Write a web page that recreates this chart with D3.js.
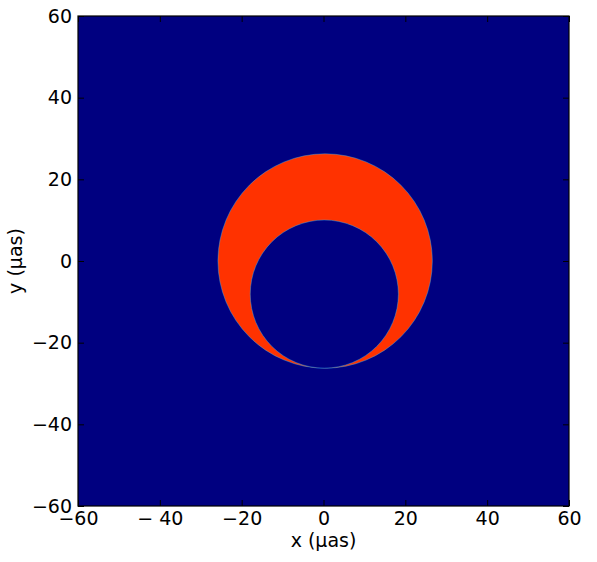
<!DOCTYPE html>
<html>
<head>
<meta charset="utf-8">
<script src="https://cdn.jsdelivr.net/npm/d3@7"></script>
<style>
  body { margin: 0; background: #fff; }
  text { font-family: "DejaVu Sans", sans-serif; }
</style>
</head>
<body>
<div id="chart"></div>
<script>
(function () {

  // tick values and their labels (matplotlib mathtext look)
  var xTicks = [-60, -40, -20, 0, 20, 40, 60]
  var xTickLabels = ["\u221260", "\u2212 40", "\u221220", "0", "20", "40", "60"]
  var yTicks = [-60, -40, -20, 0, 20, 40, 60]
  var yTickLabels = ["\u221260", "\u221240", "\u221220", "0", "20", "40", "60"]

  // crescent: bright outer disk minus a dark inner disk (µas)
  var diskX = [0.4, 0.2]
  var diskY = [0, -8.1]
  var diskR = [26.2, 18.1]
  var diskColor = ["#ff3200", "#000080"]

  var background = "#000080"
  var edgeColor = "#33bbff"

  var margin = { top: 16, right: 28, bottom: 56, left: 78 }
  var width = 597 - margin.left - margin.right,
      height = 562 - margin.top - margin.bottom

  var fontSize = "19px"

  var svg = d3.select("#chart").append("svg")
    .attr("width", 597)
    .attr("height", 562)
    .append("g")
    .attr("transform", "translate(" + margin.left + "," + margin.top + ")")

  var x = d3.scaleLinear().domain([-60, 60]).range([0, width])
  var y = d3.scaleLinear().domain([-60, 60]).range([height, 0])

  svg.append("defs").append("clipPath").attr("id", "clip")
    .append("rect").attr("width", width).attr("height", height)

  var img = svg.append("g").attr("clip-path", "url(#clip)")

  img.append("rect")
    .attr("width", width)
    .attr("height", height)
    .attr("fill", background)

  img.selectAll("circle.disk")
    .data(diskR)
    .enter().append("circle")
    .attr("class", "disk")
    .attr("cx", function (d, i) { return x(diskX[i]) })
    .attr("cy", function (d, i) { return y(diskY[i]) })
    .attr("r", function (d) { return x(d) - x(0) })
    .attr("fill", function (d, i) { return diskColor[i] })
    .attr("stroke", edgeColor)
    .attr("stroke-opacity", 0.5)
    .attr("stroke-width", 0.8)

  // frame
  svg.append("rect")
    .attr("width", width)
    .attr("height", height)
    .attr("fill", "none")
    .attr("stroke", "#000")
    .attr("stroke-width", 1.2)

  var tickLen = 6

  var xAxis = d3.axisBottom(x).tickValues(xTicks)
    .tickSize(-tickLen).tickPadding(6)
    .tickFormat(function (d, i) { return xTickLabels[i] })
  svg.append("g")
    .attr("class", "axis x-axis")
    .attr("transform", "translate(0," + height + ")")
    .call(xAxis)

  var xAxisTop = d3.axisTop(x).tickValues(xTicks)
    .tickSize(-tickLen).tickFormat("")
  svg.append("g").attr("class", "axis").call(xAxisTop)

  var yAxis = d3.axisLeft(y).tickValues(yTicks)
    .tickSize(-tickLen).tickPadding(6)
    .tickFormat(function (d, i) { return yTickLabels[i] })
  svg.append("g")
    .attr("class", "axis y-axis")
    .call(yAxis)

  var yAxisRight = d3.axisRight(y).tickValues(yTicks)
    .tickSize(-tickLen).tickFormat("")
  svg.append("g").attr("class", "axis")
    .attr("transform", "translate(" + width + ",0)")
    .call(yAxisRight)

  svg.selectAll(".axis .domain").remove()
  svg.selectAll(".axis line").attr("stroke", "#000")
  svg.selectAll(".axis text")
    .style("font-size", fontSize)
    .style("font-family", "DejaVu Sans")
    .attr("fill", "#000")

  svg.append("text")
    .attr("x", width / 2)
    .attr("y", height + 41)
    .attr("text-anchor", "middle")
    .style("font-size", fontSize)
    .text("x (\u00b5as)")

  svg.append("text")
    .attr("transform", "translate(" + (-56) + "," + (height / 2) + ") rotate(-90)")
    .attr("text-anchor", "middle")
    .style("font-size", fontSize)
    .text("y (\u00b5as)")

})()
</script>
</body>
</html>
